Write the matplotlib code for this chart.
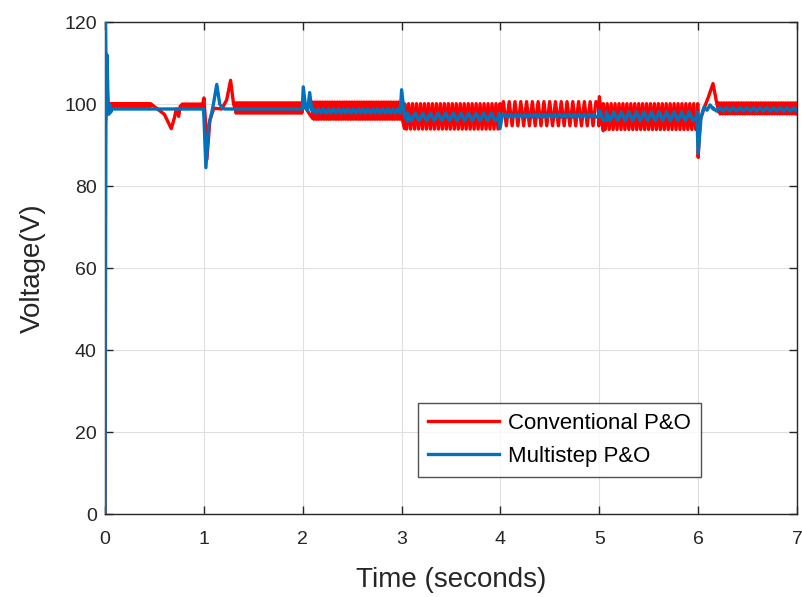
import numpy as np
import matplotlib
matplotlib.use("Agg")
import matplotlib.pyplot as plt

plt.rcParams['font.family'] = ['Liberation Sans', 'DejaVu Sans']

# ---- Conventional P&O: transient keyframes (time s, voltage V)
red_t = [0.0, 0.008, 0.015, 0.03, 0.045,
         0.46, 0.52, 0.60, 0.67, 0.70, 0.72, 0.745, 0.76, 0.78,
         0.985, 1.0, 1.015, 1.03, 1.06, 1.10, 1.18, 1.23, 1.27, 1.30, 1.315,
         2.0, 2.03, 2.07, 2.1,
         2.995, 3.0, 3.03,
         3.995, 4.0, 4.03,
         4.995, 5.0, 5.04,
         5.995, 6.0, 6.02, 6.06, 6.1, 6.15, 6.19, 6.21]
red_v = [0.0, 95.0, 100.0, 99.8, 99.6,
         99.6, 99.0, 97.5, 94.0, 96.5, 98.8, 97.0, 99.5, 99.6,
         99.6, 101.5, 96.0, 86.5, 96.0, 99.0, 98.8, 101.0, 105.8, 100.0, 99.0,
         99.5, 99.0, 97.5, 96.5,
         100.3, 97.0, 94.0,
         99.8, 97.0, 100.5,
         100.0, 101.8, 93.5,
         97.0, 87.0, 96.0, 99.0, 101.5, 105.0, 100.0, 98.0]
# ---- Conventional P&O: steady oscillation segments
red_osc_start = [0.045, 0.78, 1.315, 2.1, 3.03, 4.03, 5.04, 6.21]
red_osc_end   = [0.46, 0.985, 2.0, 2.995, 3.995, 4.995, 5.995, 7.0]
red_osc_low   = [99.3, 99.3, 97.8, 96.3, 93.9, 94.7, 93.8, 97.6]
red_osc_high  = [100.1, 100.0, 100.3, 100.5, 100.1, 100.6, 100.1, 100.3]
red_osc_freq  = [60, 60, 50, 40, 25, 17, 25, 40]

# ---- Multistep P&O: transient keyframes
blue_t = [0.0, 0.004, 0.012, 0.02, 0.028, 0.038, 0.048, 0.058, 0.07, 0.09,
          0.995, 1.0, 1.02, 1.05, 1.08, 1.10, 1.13, 1.16, 1.19, 1.22,
          1.995, 2.005, 2.03, 2.05, 2.07, 2.09, 2.11,
          2.985, 3.0, 3.03, 3.06,
          3.985, 3.995, 4.02, 4.05,
          4.995, 5.0, 5.04, 5.07,
          5.985, 6.0, 6.03, 6.06, 6.09, 6.12, 6.15]
blue_v = [0.0, 120.0, 104.0, 112.0, 103.0, 97.5, 99.8, 98.0, 98.8, 98.8,
          98.8, 97.0, 84.5, 95.0, 98.0, 100.5, 104.8, 100.0, 98.9, 98.8,
          98.8, 104.2, 99.0, 98.5, 102.8, 98.5, 98.2,
          98.0, 103.5, 97.0, 95.8,
          97.0, 94.0, 97.5, 97.2,
          97.0, 98.5, 96.0, 96.0,
          97.0, 88.0, 97.0, 99.3, 98.5, 99.8, 98.8]
# ---- Multistep P&O: steady oscillation segments
blue_osc_start = [2.11, 3.06, 4.05, 5.07, 6.15]
blue_osc_end   = [2.985, 3.985, 4.995, 5.985, 7.0]
blue_osc_low   = [97.8, 95.9, 96.8, 95.9, 98.3]
blue_osc_high  = [98.8, 97.8, 97.5, 98.1, 99.1]
blue_osc_freq  = [20, 13, 20, 13, 15]

x_ticks = [0, 1, 2, 3, 4, 5, 6, 7]
y_ticks = [0, 20, 40, 60, 80, 100, 120]


def build(kt, kv, s, e, lo, hi, fr):
    pts = list(zip(kt, kv))
    for a, b, l, h, f in zip(s, e, lo, hi, fr):
        n = max(int(round((b - a) * f * 2)), 2)
        ts = np.linspace(a, b, n + 1)
        for i, t in enumerate(ts):
            pts.append((t, h if i % 2 == 0 else l))
    pts.sort(key=lambda p: p[0])
    t, v = zip(*pts)
    return np.array(t), np.array(v)


rt, rv = build(red_t, red_v, red_osc_start, red_osc_end, red_osc_low, red_osc_high, red_osc_freq)
bt, bv = build(blue_t, blue_v, blue_osc_start, blue_osc_end, blue_osc_low, blue_osc_high, blue_osc_freq)

dark = (0.15, 0.15, 0.15)
fig = plt.figure(figsize=(8.02, 5.97), dpi=100)
ax = fig.add_axes([0.131, 0.139, 0.8628, 0.824])

ax.plot(rt, rv, color=(1, 0, 0), lw=2.4, label='Conventional P&O', zorder=3)
ax.plot(bt, bv, color=(0, 0.447, 0.741), lw=2.4, label='Multistep P&O', zorder=4)

ax.set_xlim(0, 7)
ax.set_ylim(0, 120)
ax.set_xticks(x_ticks)
ax.set_yticks(y_ticks)
ax.grid(True, color=(0.88, 0.88, 0.88), lw=0.8)
ax.set_axisbelow(True)
ax.tick_params(direction='in', length=6, width=1.0, labelsize=14, colors=dark,
               top=True, right=True, pad=6)
ax.tick_params(axis='x', pad=12)
for sp in ax.spines.values():
    sp.set_color(dark)
    sp.set_linewidth(1.0)
ax.set_xlabel('Time (seconds)', fontsize=20, color=dark, labelpad=14)
ax.set_ylabel('Voltage(V)', fontsize=20, color=dark, labelpad=13)

leg = ax.legend(loc='lower left', bbox_to_anchor=(0.452, 0.075), fontsize=16,
                frameon=True, fancybox=False, edgecolor=dark,
                borderpad=0.45, handlelength=3.2, handletextpad=0.4, labelspacing=0.55,
                borderaxespad=0)
leg.get_frame().set_linewidth(1.0)

fig.savefig('out.png', dpi=100)
